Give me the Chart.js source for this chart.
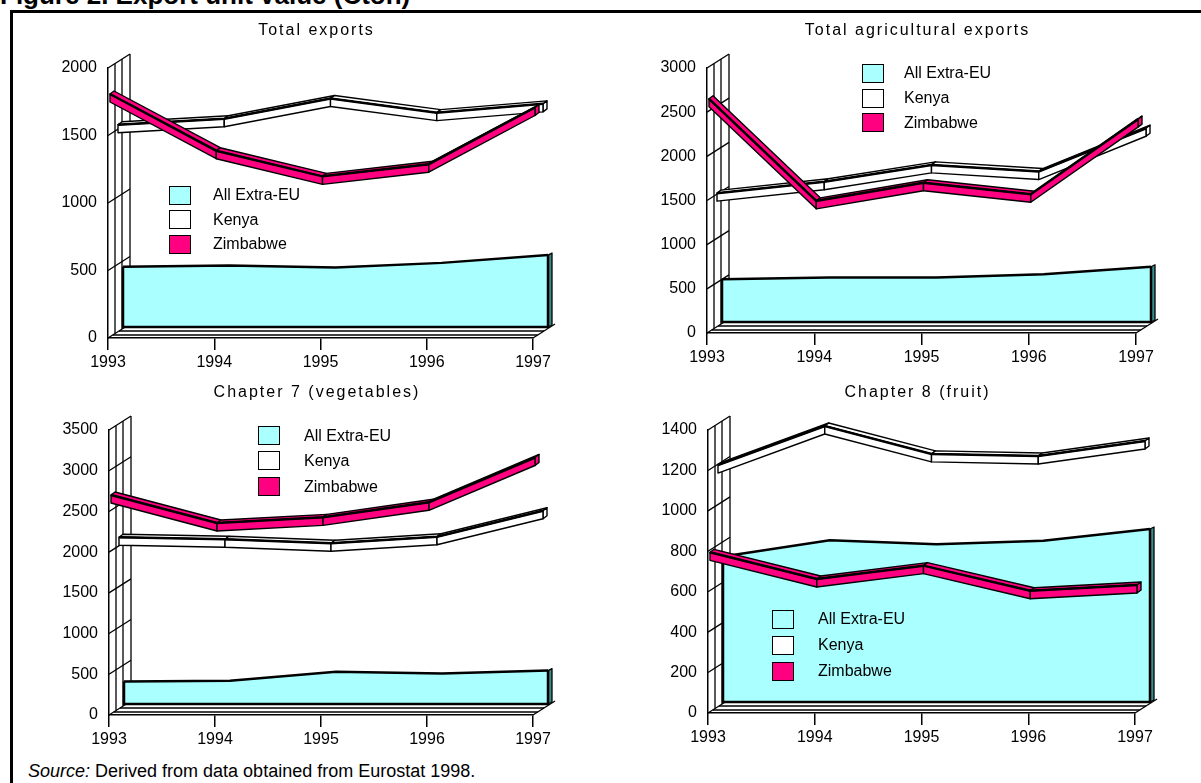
<!DOCTYPE html>
<html>
<head>
<meta charset="utf-8">
<script src="https://cdn.jsdelivr.net/npm/chart.js@4/dist/chart.umd.min.js"></script>
<style>
  body { margin: 0; width: 1201px; height: 783px; overflow: hidden; background: #fff;
         font-family: "Liberation Sans", Arial, sans-serif; position: relative; color: #000; }
  .frame { position: absolute; left: 10px; top: 10px; width: 1200px; height: 780px;
           border-left: 3px solid #000; border-top: 3px solid #000; }
  #fig { position: absolute; left: 0; top: -18px; font-weight: bold; font-size: 26px;
         line-height: 26px; white-space: nowrap; }
  .panel { position: absolute; }
  .ttl { position: absolute; font-size: 16px; letter-spacing: 2px; white-space: nowrap;
         transform: translate(-50%, -50%); }
  .sw { position: absolute; width: 22px; height: 19px; box-sizing: border-box; border: 1.5px solid #000; }
  .lt { position: absolute; font-size: 16px; white-space: nowrap; transform: translateY(-50%); }
  #src { position: absolute; left: 28px; top: 762px; font-size: 18px; line-height: 18px; white-space: nowrap; }
</style>
</head>
<body>
<div id="fig">Figure 2. Export unit value (Cton)</div>
<div class="frame"></div>
<div id="src"><i>Source:</i> Derived from data obtained from Eurostat 1998.</div>

<script>
// values (Ecu per ton)
const years = ['1993', '1994', '1995', '1996', '1997'];
const seriesNames = ['All Extra-EU', 'Kenya', 'Zimbabwe'];

const extraTotal = [447, 455, 440, 475, 533];
const kenyaTotal = [1535, 1580, 1730, 1625, 1690];
const zimTotal = [1800, 1380, 1190, 1280, 1700];

const extraAgri = [483, 505, 505, 540, 625];
const kenyaAgri = [1515, 1645, 1835, 1760, 2250];
const zimAgri = [2640, 1485, 1690, 1560, 2410];

const extraVeg = [275, 285, 395, 375, 410];
const kenyaVeg = [2110, 2085, 2035, 2115, 2435];
const zimVeg = [2690, 2345, 2415, 2600, 3150];

const extraFruit = [720, 800, 780, 798, 856];
const kenyaFruit = [1197, 1390, 1252, 1242, 1316];
const zimFruit = [790, 658, 724, 600, 628];

const colors = ['#aaffff', '#ffffff', '#ff0080'];
const SIDE = '#3a8c8c';

// panel placement (page px) for the front axes
const panels = [
  { title: 'Total exports', x0: 108, x1: 533, yTop: 68, y0: 338, max: 2000, step: 500,
    data: [extraTotal, kenyaTotal, zimTotal], leg: { sx: 169, tx: 213, ys: [195, 219.5, 244] } },
  { title: 'Total agricultural exports', x0: 707, x1: 1136, yTop: 68, y0: 333, max: 3000, step: 500,
    data: [extraAgri, kenyaAgri, zimAgri], leg: { sx: 862, tx: 904, ys: [73, 98, 122.5] } },
  { title: 'Chapter 7 (vegetables)', x0: 109, x1: 533, yTop: 430, y0: 715, max: 3500, step: 500,
    data: [extraVeg, kenyaVeg, zimVeg], leg: { sx: 258, tx: 304, ys: [435.5, 460.5, 486.5] } },
  { title: 'Chapter 8 (fruit)', x0: 708, x1: 1135, yTop: 430, y0: 713, max: 1400, step: 200,
    data: [extraFruit, kenyaFruit, zimFruit], leg: { sx: 772, tx: 818, ys: [619, 645, 671] } },
];

// depth of each series inside the 3-D box
const depths = [{ dx: 15, dy: 11 }, { dx: 10, dy: 6 }, { dx: 2, dy: 1 }];
const WALL_X = 22, WALL_Y = 14;
const RIB_T = 8, RIB_X = 4, RIB_Y = 3;

function quad(ctx, p) {
  ctx.beginPath();
  ctx.moveTo(p[0][0], p[0][1]);
  for (let i = 1; i < p.length; i++) ctx.lineTo(p[i][0], p[i][1]);
  ctx.closePath();
  ctx.fill();
  ctx.stroke();
}

const box3d = {
  id: 'box3d',
  beforeDatasetsDraw(chart) {
    const ctx = chart.ctx, y = chart.scales.y;
    const x0 = chart.chartArea.left, x1 = chart.chartArea.right;
    const yb = y.getPixelForValue(0), yt = y.getPixelForValue(y.max);
    ctx.save();
    ctx.strokeStyle = '#000';
    ctx.lineWidth = 1.3;
    // left wall
    [7, 14, WALL_X].forEach(d => {
      const off = d * WALL_Y / WALL_X;
      ctx.beginPath();
      ctx.moveTo(x0 + d, yt - off);
      ctx.lineTo(x0 + d, yb - off);
      ctx.stroke();
    });
    y.ticks.forEach(t => {
      const py = y.getPixelForValue(t.value);
      ctx.beginPath();
      ctx.moveTo(x0, py);
      ctx.lineTo(x0 + WALL_X, py - WALL_Y);
      ctx.stroke();
    });
    // floor
    [3, 7].forEach(h => {
      const off = h * WALL_X / WALL_Y;
      ctx.beginPath();
      ctx.moveTo(x0 + off, yb - h);
      ctx.lineTo(x1 + off, yb - h);
      ctx.stroke();
    });
    ctx.beginPath();
    ctx.moveTo(x1, yb);
    ctx.lineTo(x1 + WALL_X, yb - WALL_Y);
    ctx.stroke();
    ctx.restore();
  },
  beforeDatasetDraw(chart, args) {
    const ds = chart.data.datasets[args.index];
    const ctx = chart.ctx;
    const pts = args.meta.data;
    ctx.save();
    ctx.translate(ds.dx, -ds.dy);
    ctx.strokeStyle = '#000';
    ctx.lineJoin = 'round';
    if (ds.kind === 'area') {
      const yb = chart.scales.y.getPixelForValue(0);
      ctx.fillStyle = ds.face;
      ctx.beginPath();
      ctx.moveTo(pts[0].x, yb);
      pts.forEach(p => ctx.lineTo(p.x, p.y));
      ctx.lineTo(pts[pts.length - 1].x, yb);
      ctx.closePath();
      ctx.fill();
    } else {
      ctx.fillStyle = ds.face;
      ctx.lineWidth = 1.4;
      for (let i = 0; i < pts.length - 1; i++) {
        const a = pts[i], b = pts[i + 1];
        quad(ctx, [[a.x, a.y], [b.x, b.y], [b.x + RIB_X, b.y - RIB_Y], [a.x + RIB_X, a.y - RIB_Y]]);
      }
      const l = pts[pts.length - 1];
      quad(ctx, [[l.x, l.y], [l.x + RIB_X, l.y - RIB_Y], [l.x + RIB_X, l.y - RIB_Y + RIB_T], [l.x, l.y + RIB_T]]);
      for (let i = 0; i < pts.length - 1; i++) {
        const a = pts[i], b = pts[i + 1];
        quad(ctx, [[a.x, a.y], [b.x, b.y], [b.x, b.y + RIB_T], [a.x, a.y + RIB_T]]);
      }
    }
  },
  afterDatasetDraw(chart, args) {
    const ds = chart.data.datasets[args.index];
    const ctx = chart.ctx;
    const pts = args.meta.data;
    if (ds.kind === 'area') {
      const yb = chart.scales.y.getPixelForValue(0);
      const l = pts[pts.length - 1], f = pts[0];
      ctx.fillStyle = SIDE;
      ctx.lineWidth = 1.3;
      quad(ctx, [[l.x, l.y], [l.x + 4, l.y - 2], [l.x + 4, yb - 2], [l.x, yb]]);
      ctx.lineWidth = 2.5;
      ctx.beginPath();
      ctx.moveTo(f.x, f.y);
      ctx.lineTo(f.x, yb);
      ctx.lineTo(l.x, yb);
      ctx.lineTo(l.x, l.y);
      ctx.stroke();
    }
    ctx.restore();
  }
};

const YW = 100, XH = 40, PT = 30, PR = 40;
const tickFont = { family: 'Liberation Sans', size: 16 };

panels.forEach((p, k) => {
  const div = document.createElement('div');
  div.className = 'panel';
  const w = p.x1 - p.x0 + YW + PR, h = p.y0 - p.yTop + PT + XH;
  div.style.cssText = `left:${p.x0 - YW}px;top:${p.yTop - PT}px;width:${w}px;height:${h}px`;
  const cv = document.createElement('canvas');
  div.appendChild(cv);
  document.body.appendChild(div);

  const t = document.createElement('div');
  t.className = 'ttl';
  t.textContent = p.title;
  t.style.left = ((p.x0 + p.x1) / 2 - 4) + 'px';
  t.style.top = (k < 2 ? 30 : 392) + 'px';
  document.body.appendChild(t);

  seriesNames.forEach((name, i) => {
    const sw = document.createElement('div');
    sw.className = 'sw';
    sw.style.cssText = `left:${p.leg.sx}px;top:${p.leg.ys[i] - 9.5}px;background:${colors[i]}`;
    document.body.appendChild(sw);
    const lt = document.createElement('div');
    lt.className = 'lt';
    lt.textContent = name;
    lt.style.left = p.leg.tx + 'px';
    lt.style.top = p.leg.ys[i] + 'px';
    document.body.appendChild(lt);
  });

  const datasets = p.data.map((vals, i) => ({
    label: seriesNames[i],
    data: vals,
    kind: i === 0 ? 'area' : 'ribbon',
    face: colors[i],
    dx: depths[i].dx,
    dy: depths[i].dy,
    order: 3 - i,
    borderColor: '#000',
    borderWidth: 2.5,
    pointRadius: 0,
    fill: false,
    tension: 0,
    clip: false,
  }));

  new Chart(cv, {
    type: 'line',
    data: { labels: years, datasets },
    options: {
      responsive: true,
      maintainAspectRatio: false,
      animation: false,
      devicePixelRatio: 1,
      layout: { padding: { top: PT, right: PR, left: 0, bottom: 0 } },
      plugins: { legend: { display: false }, tooltip: { enabled: false } },
      scales: {
        x: {
          offset: false,
          grid: { drawOnChartArea: false, color: '#000', lineWidth: 1.5, tickLength: 12 },
          border: { display: true, color: '#000', width: 1.5 },
          ticks: { color: '#000', font: tickFont, padding: 3, maxRotation: 0 },
          afterFit(s) { s.height = XH; },
        },
        y: {
          min: 0, max: p.max,
          grid: { display: false, drawTicks: false },
          border: { display: true, color: '#000', width: 1.5 },
          ticks: { stepSize: p.step, color: '#000', font: tickFont, padding: 11, callback: v => String(v) },
          afterFit(s) { s.width = YW; },
        },
      },
    },
    plugins: [box3d],
  });
});
</script>
</body>
</html>
